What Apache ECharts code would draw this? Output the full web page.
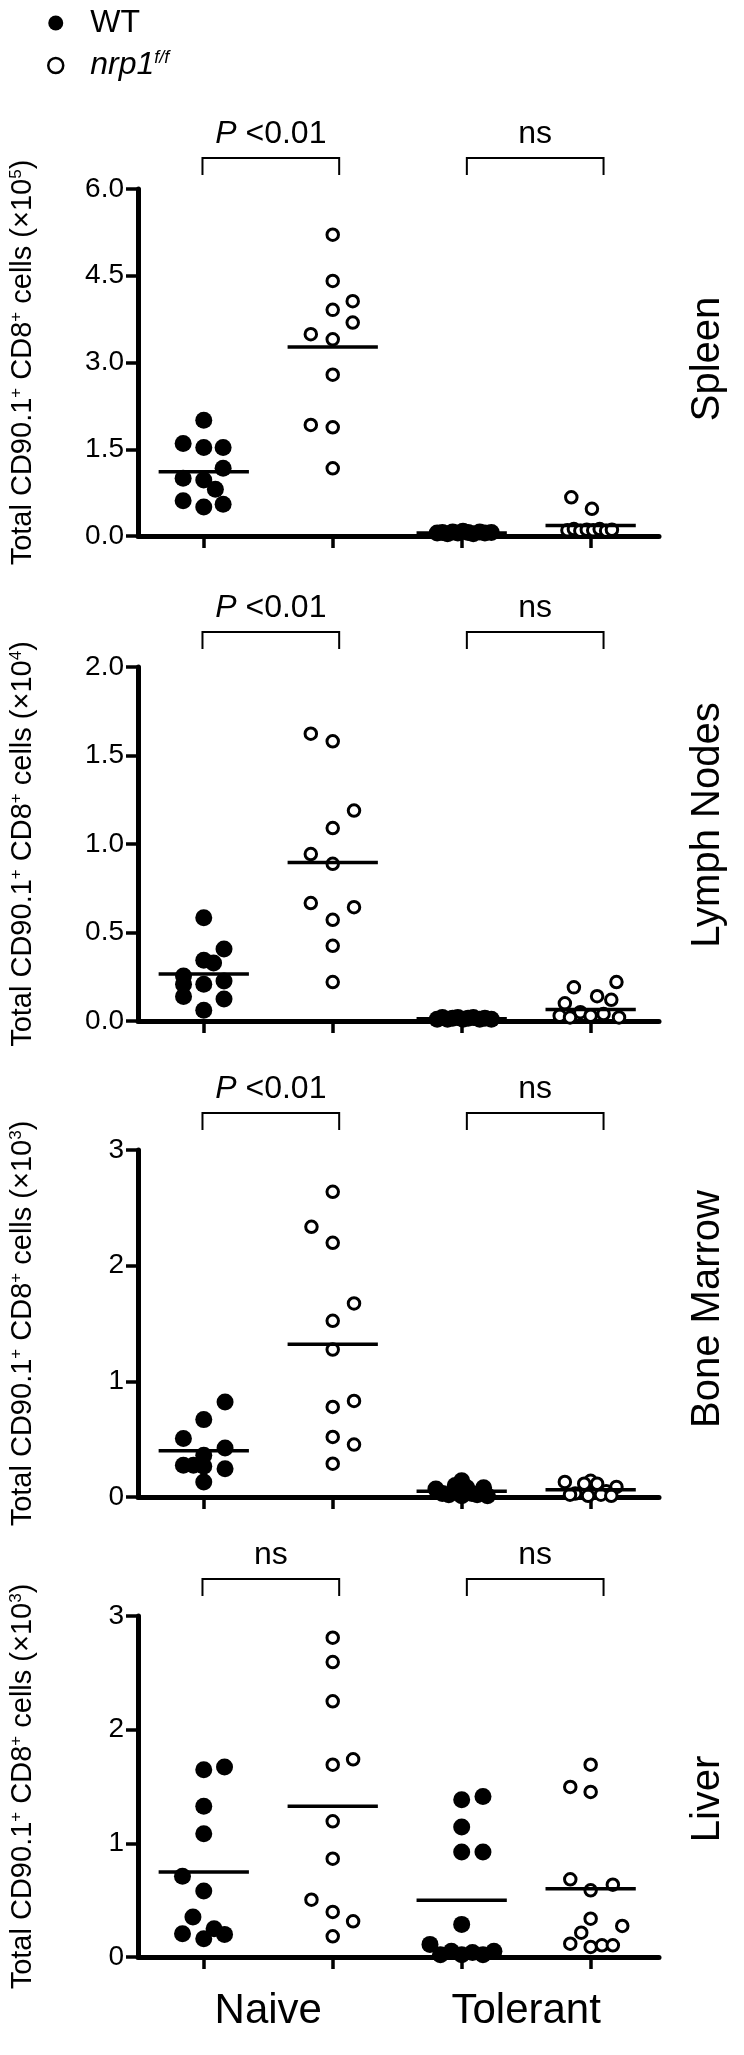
<!DOCTYPE html>
<html>
<head>
<meta charset="utf-8">
<script src="https://cdn.jsdelivr.net/npm/echarts@6/dist/echarts.min.js"></script>
<style>
html,body{margin:0;padding:0;background:#fff;}
#chart{width:744px;height:2055px;}
</style>
</head>
<body>
<div id="chart"></div>
<script>
// ---------------- DATA ----------------
const PANELS = ['Spleen', 'Lymph Nodes', 'Bone Marrow', 'Liver'];
const CATEGORIES = ['Naive', 'Tolerant'];
const Y_MAX = [6, 2, 3, 3];
const Y_INTERVAL = [1.5, 0.5, 1, 1];
const Y_DECIMALS = [1, 1, 0, 0];
const Y_EXPONENT = ['5', '4', '3', '3'];
const SIG_LABELS = [['P <0.01', 'ns'], ['P <0.01', 'ns'], ['P <0.01', 'ns'], ['ns', 'ns']];
const BRACKET_SPANS = [[-0.01, 1.05], [2.04, 3.10]];

// group means (horizontal bars): WT naive, nrp1 naive, WT tolerant, nrp1 tolerant
const spleen_means = [1.11, 3.27, 0.05, 0.18];
const ln_means = [0.265, 0.895, 0.013, 0.065];
const bm_means = [0.40, 1.32, 0.05, 0.063];
const liver_means = [0.748, 1.326, 0.499, 0.601];

// Spleen (x10^5)
const spleen_WT_naive = [2.00, 1.60, 1.53, 1.53, 1.17, 1.00, 0.97, 0.81, 0.61, 0.55, 0.50];
const spleen_WT_naive_jit = [0, -0.16, 0, 0.15, 0.15, -0.16, 0, 0.09, -0.16, 0.15, 0];
const spleen_nrp_naive = [5.21, 4.41, 4.06, 3.91, 3.69, 3.49, 3.40, 2.79, 1.92, 1.88, 1.17];
const spleen_nrp_naive_jit = [0, 0, 0.155, 0, 0.155, -0.17, 0, 0, -0.17, 0, 0];
const spleen_WT_tol = [0.05, 0.06, 0.04, 0.07, 0.05, 0.08, 0.06, 0.04, 0.07, 0.05, 0.06];
const spleen_WT_tol_jit = [-0.19, -0.15, -0.11, -0.07, -0.03, 0.01, 0.05, 0.09, 0.14, 0.18, 0.23];
const spleen_nrp_tol = [0.67, 0.47, 0.10, 0.12, 0.09, 0.11, 0.10, 0.12, 0.09, 0.11];
const spleen_nrp_tol_jit = [-0.15, 0.01, -0.18, -0.13, -0.08, -0.03, 0.02, 0.07, 0.12, 0.165];

// Lymph nodes (x10^4)
const ln_WT_naive = [0.583, 0.407, 0.343, 0.328, 0.254, 0.207, 0.207, 0.226, 0.139, 0.124, 0.061];
const ln_WT_naive_jit = [0, 0.157, 0, 0.076, -0.157, -0.157, 0, 0.157, -0.157, 0.157, 0];
const ln_nrp_naive = [1.623, 1.580, 1.189, 1.090, 0.943, 0.888, 0.666, 0.643, 0.572, 0.425, 0.22];
const ln_nrp_naive_jit = [-0.17, 0, 0.165, 0, -0.17, 0, -0.17, 0.165, 0, 0, 0];
const ln_WT_tol = [0.01, 0.02, 0.01, 0.015, 0.02, 0.01, 0.015, 0.02, 0.01, 0.015, 0.01];
const ln_WT_tol_jit = [-0.19, -0.15, -0.11, -0.07, -0.03, 0.01, 0.05, 0.09, 0.14, 0.18, 0.23];
const ln_nrp_tol = [0.22, 0.19, 0.14, 0.12, 0.10, 0.05, 0.04, 0.03, 0.03, 0.02, 0.02];
const ln_nrp_tol_jit = [0.2, -0.13, 0.05, 0.16, -0.2, -0.08, 0.1, -0.24, 0.0, 0.22, -0.16];

// Bone marrow (x10^3)
const bm_WT_naive = [0.822, 0.669, 0.505, 0.424, 0.361, 0.274, 0.274, 0.265, 0.245, 0.130];
const bm_WT_naive_jit = [0.165, 0, -0.158, 0.165, 0, -0.158, -0.08, 0, 0.165, 0];
const bm_nrp_naive = [2.639, 2.336, 2.198, 1.673, 1.523, 1.275, 0.831, 0.779, 0.519, 0.453, 0.288];
const bm_nrp_naive_jit = [0, -0.165, 0, 0.165, 0, 0, 0.165, 0, 0, 0.165, 0];
const bm_WT_tol = [0.07, 0.03, 0.02, 0.10, 0.14, 0.08, 0.03, 0.01, 0.02, 0.08, 0.01];
const bm_WT_tol_jit = [-0.2, -0.15, -0.1, -0.05, 0.0, 0.04, 0.08, 0.0, 0.12, 0.17, 0.2];
const bm_nrp_tol = [0.13, 0.14, 0.115, 0.115, 0.087, 0.05, 0.03, 0.02, 0.02, 0.01, 0.01];
const bm_nrp_tol_jit = [-0.2, 0, -0.05, 0.05, 0.2, 0.12, -0.12, -0.16, 0.08, -0.02, 0.16];

// Liver (x10^3)
const liver_WT_naive = [1.648, 1.672, 1.326, 1.085, 0.710, 0.581, 0.352, 0.205, 0.161, 0.249, 0.199];
const liver_WT_naive_jit = [0, 0.161, 0, 0, -0.165, 0, -0.084, -0.165, 0, 0.08, 0.161];
const liver_nrp_naive = [2.809, 2.595, 2.249, 1.739, 1.692, 1.194, 0.865, 0.504, 0.396, 0.314, 0.182];
const liver_nrp_naive_jit = [0, 0, 0, 0.158, 0, 0, 0, -0.165, 0, 0.158, 0];
const liver_WT_tol = [1.384, 1.413, 1.144, 0.924, 0.924, 0.287, 0.111, 0.02, 0.05, 0.02, 0.04, 0.02, 0.05];
const liver_WT_tol_jit = [0, 0.165, 0, 0, 0.165, 0, -0.246, -0.165, -0.08, 0, 0.084, 0.165, 0.25];
const liver_nrp_tol = [1.692, 1.496, 1.452, 0.683, 0.587, 0.636, 0.337, 0.273, 0.214, 0.117, 0.088, 0.103, 0.103];
const liver_nrp_tol_jit = [0, -0.158, 0, -0.158, 0, 0.172, 0, 0.245, -0.073, -0.158, 0, 0.088, 0.172];

// ---------------- STYLE / LAYOUT ----------------
const SANS = '"Liberation Sans", Arial, Helvetica, sans-serif';
const GRID_LEFT = 136, GRID_WIDTH = 523;
const GRID_TOPS = [189, 667, 1150, 1616];
const GRID_HEIGHTS = [347, 354, 347, 341];
const BRACKET_GAP = [31, 35, 37, 37];
const SIDE_LABEL_Y = [359, 825, 1309, 1799];
const SIDE_LABEL_X = 708;

// ---------------- BUILD ----------------
const panelData = [
  [[spleen_WT_naive, spleen_WT_naive_jit, spleen_WT_tol, spleen_WT_tol_jit],
   [spleen_nrp_naive, spleen_nrp_naive_jit, spleen_nrp_tol, spleen_nrp_tol_jit]],
  [[ln_WT_naive, ln_WT_naive_jit, ln_WT_tol, ln_WT_tol_jit],
   [ln_nrp_naive, ln_nrp_naive_jit, ln_nrp_tol, ln_nrp_tol_jit]],
  [[bm_WT_naive, bm_WT_naive_jit, bm_WT_tol, bm_WT_tol_jit],
   [bm_nrp_naive, bm_nrp_naive_jit, bm_nrp_tol, bm_nrp_tol_jit]],
  [[liver_WT_naive, liver_WT_naive_jit, liver_WT_tol, liver_WT_tol_jit],
   [liver_nrp_naive, liver_nrp_naive_jit, liver_nrp_tol, liver_nrp_tol_jit]]
];
const panelMeans = [spleen_means, ln_means, bm_means, liver_means];

function pts(vals, jit, group) {
  return vals.map((v, i) => [group + jit[i], v]);
}

const grids = [], xAxes = [], yAxes = [], series = [], graphics = [];

PANELS.forEach((panel, p) => {
  const last = p === PANELS.length - 1;
  grids.push({ left: GRID_LEFT, width: GRID_WIDTH, top: GRID_TOPS[p], height: GRID_HEIGHTS[p] });
  xAxes.push({
    type: 'value', gridIndex: p, min: -0.51, max: 3.53,
    splitLine: { show: false },
    axisLine: { show: true, onZero: false, lineStyle: { color: '#000', width: 5 } },
    axisTick: { show: true, customValues: [0, 1, 2, 3], length: 12, lineStyle: { color: '#000', width: 3.5 } },
    axisLabel: last ? {
      show: true, customValues: [0.5, 2.5],
      formatter: v => (v < 1.5 ? CATEGORIES[0] : CATEGORIES[1]),
      fontSize: 42, fontFamily: SANS, color: '#000', margin: 33
    } : { show: false }
  });
  const exp = Y_EXPONENT[p];
  yAxes.push({
    type: 'value', gridIndex: p, min: 0, max: Y_MAX[p], interval: Y_INTERVAL[p],
    splitLine: { show: false },
    axisLine: { show: true, onZero: false, lineStyle: { color: '#000', width: 5 } },
    axisTick: { show: true, length: 12, lineStyle: { color: '#000', width: 3.5 } },
    axisLabel: {
      fontSize: 28, fontFamily: SANS, color: '#000', margin: 14,
      formatter: v => v.toFixed(Y_DECIMALS[p])
    },
    name: '{n|Total CD90.1}{s|+}{n| CD8}{s|+}{n| cells (×10}{s|' + exp + '}{n|)}',
    nameLocation: 'middle', nameRotate: 90, nameGap: 100, nameMoveOverlap: false,
    nameTextStyle: {
      rich: {
        n: { fontSize: 29, fontFamily: SANS, color: '#000' },
        s: { fontSize: 17, fontFamily: SANS, color: '#000', padding: [0, 0, 13, 0] }
      }
    }
  });

  const [wt, nrp] = panelData[p];
  series.push({
    name: 'WT', type: 'scatter', xAxisIndex: p, yAxisIndex: p,
    symbol: 'circle', symbolSize: 17, itemStyle: { color: '#000', opacity: 1 },
    emphasis: { disabled: true },
    data: pts(wt[0], wt[1], 0).concat(pts(wt[2], wt[3], 2)), z: 3
  });
  series.push({
    name: 'nrp1', type: 'scatter', xAxisIndex: p, yAxisIndex: p,
    symbol: 'circle', symbolSize: 11.5,
    itemStyle: { color: '#fff', borderColor: '#000', borderWidth: 3, opacity: 1 },
    emphasis: { disabled: true },
    data: pts(nrp[0], nrp[1], 1).concat(pts(nrp[2], nrp[3], 3)), z: 3
  });
  // mean bars
  series.push({
    name: 'mean' + p, type: 'custom', xAxisIndex: p, yAxisIndex: p, z: 5, clip: false,
    data: panelMeans[p].map((m, g) => [g, m]),
    renderItem: (params, api) => {
      const g = api.value(0), m = api.value(1);
      const a = api.coord([g - 0.35, m]), b = api.coord([g + 0.35, m]);
      return { type: 'line', shape: { x1: a[0], y1: a[1], x2: b[0], y2: b[1] },
               style: { stroke: '#000', lineWidth: 3.5 } };
    }
  });
  // significance brackets
  const gap = BRACKET_GAP[p], ymax = Y_MAX[p], labels = SIG_LABELS[p];
  series.push({
    name: 'sig' + p, type: 'custom', xAxisIndex: p, yAxisIndex: p, z: 5, clip: false,
    data: BRACKET_SPANS.map((span, k) => [span[0], span[1], k]),
    renderItem: (params, api) => {
      const a = api.value(0), b = api.value(1), k = api.value(2);
      const top = api.coord([0, ymax])[1] - gap;
      const xa = api.coord([a, 0])[0], xb = api.coord([b, 0])[0];
      const lab = labels[k];
      const txt = lab.startsWith('P') ? '{i|P}{r|' + lab.slice(1) + '}' : '{r|' + lab + '}';
      return {
        type: 'group', children: [
          { type: 'polyline', shape: { points: [[xa, top + 17], [xa, top], [xb, top], [xb, top + 17]] },
            style: { stroke: '#000', lineWidth: 2, fill: null } },
          { type: 'text', x: (xa + xb) / 2, y: top - 8,
            style: { text: txt, align: 'center', verticalAlign: 'bottom', fill: '#000',
              fontSize: 32, fontFamily: SANS,
              rich: { i: { fontStyle: 'italic', fontSize: 32, fontFamily: SANS, fill: '#000' },
                      r: { fontSize: 32, fontFamily: SANS, fill: '#000' } } } }
        ]
      };
    }
  });
  graphics.push({
    type: 'text', x: SIDE_LABEL_X, y: SIDE_LABEL_Y[p], rotation: Math.PI / 2,
    style: { text: panel, fontSize: 40, fontFamily: SANS, fill: '#000',
             align: 'center', verticalAlign: 'middle', textAlign: 'center', textVerticalAlign: 'middle' }
  });
});

const chart = echarts.init(document.getElementById('chart'), null, { renderer: 'canvas' });
chart.setOption({
  animation: false,
  backgroundColor: '#fff',
  grid: grids, xAxis: xAxes, yAxis: yAxes, series: series, graphic: graphics,
  legend: {
    left: 42, top: 2, orient: 'vertical', itemWidth: 15, itemHeight: 15, itemGap: 10,
    selectedMode: false,
    data: [
      { name: 'WT', icon: 'circle', itemStyle: { color: '#000', borderWidth: 0, opacity: 1 } },
      { name: 'nrp1', icon: 'circle', itemStyle: { color: '#fff', borderColor: '#000', borderWidth: 2.5, opacity: 1 } }
    ],
    formatter: name => (name === 'WT' ? '{r|WT}' : '{it|nrp1}{sup|f/f}'),
    textStyle: {
      color: '#000', fontSize: 32, fontFamily: SANS, padding: [0, 0, 0, 22],
      rich: {
        r: { fontSize: 32, fontFamily: SANS, color: '#000' },
        it: { fontSize: 32, fontFamily: SANS, fontStyle: 'italic', color: '#000' },
        sup: { fontSize: 18, fontFamily: SANS, fontStyle: 'italic', color: '#000', padding: [0, 0, 15, 0] }
      }
    }
  }
});
</script>
</body>
</html>
